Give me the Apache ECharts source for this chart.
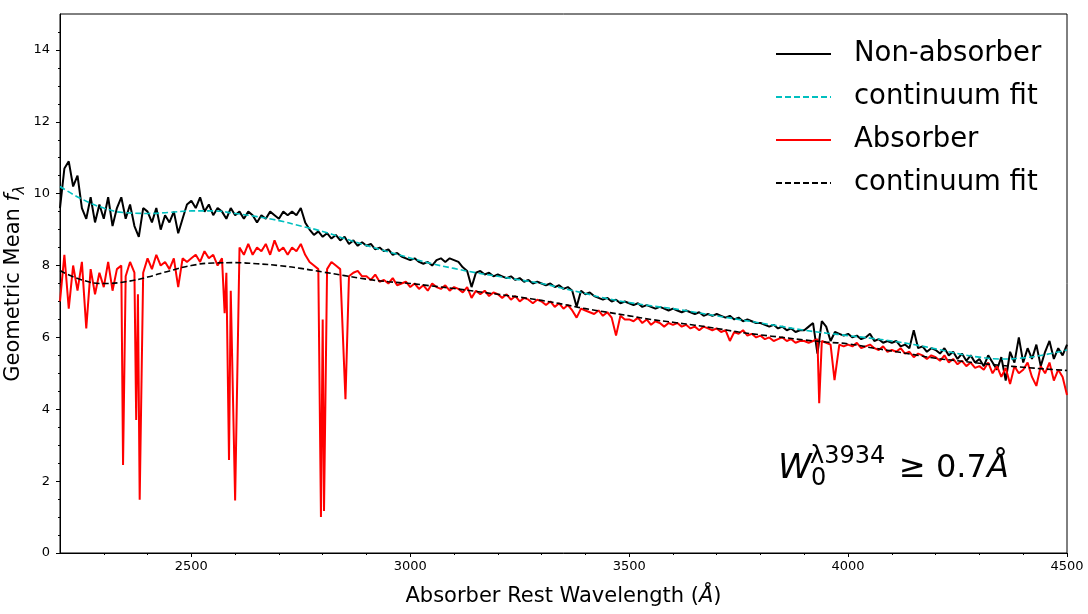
<!DOCTYPE html>
<html>
<head>
<meta charset="utf-8">
<script src="https://cdn.jsdelivr.net/npm/echarts@6/dist/echarts.min.js"></script>
<style>
  html, body { margin: 0; padding: 0; background: #fff; }
  #main { width: 1088px; height: 614px; }
</style>
</head>
<body>
<div id="main"></div>
<script>
// wavelength grid of the stacked spectra (10 A steps)
const gridStart = 2200, gridStep = 10;

// non-absorber geometric mean, one value per 10 A from 2200 to 4500
const nonAbsFlux = [
  9.6, 10.7, 10.9, 10.2, 10.5, 9.6, 9.3, 9.9, 9.2, 9.7,
  9.3, 9.9, 9.1, 9.6, 9.9, 9.3, 9.7, 9.1, 8.8, 9.6,
  9.5, 9.2, 9.6, 9.0, 9.4, 9.2, 9.5, 8.9, 9.3, 9.7,
  9.8, 9.6, 9.9, 9.5, 9.7, 9.4, 9.6, 9.5, 9.3, 9.6,
  9.4, 9.5, 9.3, 9.5, 9.4, 9.2, 9.4, 9.3, 9.5, 9.4,
  9.3, 9.5, 9.4, 9.5, 9.4, 9.6, 9.2, 9.0, 8.85, 8.95,
  8.8, 8.9, 8.75, 8.85, 8.7, 8.8, 8.6, 8.7, 8.55, 8.65,
  8.55, 8.6, 8.45, 8.5, 8.4, 8.45, 8.3, 8.35, 8.25, 8.2,
  8.15, 8.2, 8.1, 8.05, 8.1, 8.0, 8.15, 8.2, 8.1, 8.2,
  8.15, 8.1, 7.95, 7.85, 7.4, 7.8, 7.85, 7.75, 7.8, 7.7,
  7.75, 7.7, 7.65, 7.7, 7.6, 7.65, 7.55, 7.6, 7.5, 7.55,
  7.5, 7.45, 7.5, 7.4, 7.45, 7.35, 7.4, 7.3, 6.85, 7.3,
  7.2, 7.25, 7.15, 7.1, 7.05, 7.1, 7.0, 7.05, 6.95, 7.0,
  6.95, 6.9, 6.95, 6.85, 6.9, 6.85, 6.8, 6.85, 6.8, 6.75,
  6.8, 6.75, 6.7, 6.75, 6.7, 6.65, 6.7, 6.6, 6.65, 6.6,
  6.65, 6.6, 6.55, 6.6, 6.5, 6.55, 6.45, 6.5, 6.45, 6.4,
  6.4, 6.35, 6.3, 6.35, 6.25, 6.3, 6.2, 6.25, 6.15, 6.2,
  6.2, 6.3, 6.4, 5.55, 6.45, 6.3, 5.9, 6.15, 6.1, 6.05,
  6.1, 6.0, 6.05, 5.95, 6.0, 6.1, 5.9, 5.95, 5.85, 5.9,
  5.85, 5.9, 5.75, 5.8, 5.7, 6.2, 5.7, 5.75, 5.6, 5.7,
  5.65, 5.55, 5.7, 5.5, 5.6, 5.4, 5.55, 5.35, 5.5, 5.3,
  5.4, 5.2, 5.5, 5.3, 5.1, 5.45, 4.8, 5.6, 5.3, 6.0,
  5.3, 5.7, 5.4, 5.8, 5.2, 5.6, 5.9, 5.4, 5.7, 5.5,
  5.8
];

// absorber geometric mean on the same grid
const absFlux = [
  7.0, 8.3, 6.8, 8.0, 7.3, 8.1, 7.5, 7.9, 7.2, 7.8,
  7.4, 8.1, 7.3, 7.9, 8.0, 7.7, 8.1, 7.8, 7.5, 7.8,
  8.2, 7.9, 8.3, 8.0, 8.1, 7.9, 8.2, 7.4, 8.2, 8.1,
  8.2, 8.3, 8.1, 8.4, 8.2, 8.3, 8.0, 8.2, 7.8, 7.3,
  8.2, 8.5, 8.3, 8.6, 8.3, 8.5, 8.4, 8.6, 8.3, 8.7,
  8.4, 8.5, 8.3, 8.5, 8.4, 8.6, 8.3, 8.1, 8.0, 7.9,
  6.5, 7.9, 8.1, 8.0, 7.9, 8.0, 7.7, 7.8, 7.85, 7.7,
  7.7, 7.6, 7.75, 7.55, 7.6, 7.5, 7.65, 7.45, 7.5, 7.55,
  7.4, 7.5, 7.35, 7.45, 7.3, 7.5, 7.4, 7.35, 7.45, 7.3,
  7.4, 7.35, 7.25, 7.4, 7.1, 7.3, 7.2, 7.3, 7.15, 7.25,
  7.2, 7.1, 7.2, 7.05, 7.15, 7.0, 7.1, 7.05, 6.95, 7.05,
  7.0, 6.9, 7.0, 6.85, 6.95, 6.8, 6.9, 6.75, 6.55, 6.8,
  6.75, 6.7, 6.65, 6.75, 6.6, 6.7, 6.55, 6.05, 6.6, 6.5,
  6.5, 6.45, 6.55, 6.4, 6.5, 6.35, 6.45, 6.4, 6.3, 6.4,
  6.35, 6.4, 6.3, 6.35, 6.25, 6.3, 6.2, 6.3, 6.25, 6.2,
  6.25, 6.15, 6.2, 5.9, 6.15, 6.1, 6.2, 6.05, 6.1, 6.0,
  6.05, 5.95, 6.0, 5.9, 5.95, 6.0, 5.9, 5.95, 5.85, 5.9,
  5.9, 5.85, 5.9, 5.95, 5.9, 5.85, 5.8, 5.85, 5.8, 5.75,
  5.8, 5.75, 5.85, 5.7, 5.75, 5.8, 5.7, 5.65, 5.75, 5.6,
  5.65, 5.6, 5.7, 5.55, 5.6, 5.45, 5.55, 5.5, 5.4, 5.5,
  5.45, 5.35, 5.5, 5.3, 5.4, 5.25, 5.35, 5.2, 5.3, 5.15,
  5.2, 5.1, 5.3, 5.0, 5.2, 4.9, 5.15, 4.7, 5.2, 5.0,
  5.1, 5.3, 4.9, 4.65, 5.2, 5.0, 5.3, 4.8, 5.1, 4.9,
  4.4
];

// narrow absorption features of the absorber stack (Fe II, Mg II, Mg I, Ca II)
const lineWave = [2260, 2344, 2374, 2378, 2382, 2576, 2586, 2600, 2796, 2803, 2852, 3934, 3969];
const lineFlux = [6.25, 2.45, 3.7, 7.2, 1.48, 6.67, 2.59, 1.46, 1.0, 1.17, 4.28, 4.17, 4.81];

// continuum fits, every 50 A
const fitWave = [
  2200, 2250, 2300, 2350, 2400, 2450, 2500, 2550, 2600, 2650, 2700, 2750,
  2800, 2850, 2900, 2950, 3000, 3050, 3100, 3150, 3200, 3250, 3300, 3350,
  3400, 3450, 3500, 3550, 3600, 3650, 3700, 3750, 3800, 3850, 3900, 3950,
  4000, 4050, 4100, 4150, 4200, 4250, 4300, 4350, 4400, 4450, 4500
];
const nonAbsFit = [
  10.2, 9.85, 9.6, 9.47, 9.45, 9.48, 9.52, 9.52, 9.45, 9.36, 9.25, 9.1,
  8.95, 8.75, 8.56, 8.38, 8.21, 8.05, 7.92, 7.8, 7.7, 7.6, 7.5, 7.36,
  7.22, 7.08, 6.97, 6.88, 6.8, 6.7, 6.6, 6.5, 6.4, 6.3, 6.2, 6.12,
  6.05, 5.98, 5.9, 5.8, 5.68, 5.55, 5.45, 5.4, 5.43, 5.52, 5.65
];
const absFit = [
  7.86, 7.6, 7.5, 7.55, 7.68, 7.85, 8.0, 8.07, 8.08, 8.05, 8.0, 7.92,
  7.82, 7.72, 7.62, 7.55, 7.5, 7.43, 7.36, 7.28, 7.2, 7.12, 7.03, 6.92,
  6.8, 6.7, 6.6, 6.5, 6.42, 6.34, 6.25, 6.15, 6.07, 6.0, 5.93, 5.87,
  5.82, 5.72, 5.62, 5.52, 5.42, 5.35, 5.28, 5.22, 5.17, 5.12, 5.08
];

// axis ticks
const xMajorTicks = [2500, 3000, 3500, 4000, 4500];
const yMajorTicks = [0, 2, 4, 6, 8, 10, 12, 14];

const FONT = 'DejaVu Sans';

const xMinorTicks = [];
for (let v = 2300; v < 4500; v += 100) if (v % 500 !== 0) xMinorTicks.push(v);
const yMinorTicks = [];
for (let v = 0.5; v < 15; v += 0.5) if (v % 2 !== 0) yMinorTicks.push(v);

const pairs = (xs, ys) => xs.map((x, i) => [x, ys[i]]);
const gridWave = nonAbsFlux.map((_, i) => gridStart + i * gridStep);

const nonAbsData = pairs(gridWave, nonAbsFlux);
// merge the line cores into the absorber grid, dropping grid points that sit on a line core
const absData = pairs(gridWave, absFlux)
  .filter(p => !lineWave.some(w => Math.abs(w - p[0]) <= 2))
  .concat(pairs(lineWave, lineFlux))
  .sort((a, b) => a[0] - b[0]);

const chart = echarts.init(document.getElementById('main'));

const axisBase = {
  axisLine: { show: true, lineStyle: { color: '#000', width: 1 } },
  splitLine: { show: false },
};

const option = {
  animation: false,
  backgroundColor: '#fff',
  grid: {
    left: 60, right: 21, top: 14, bottom: 61,
    outerBoundsMode: 'none', containLabel: false,
    show: true, borderColor: '#000', borderWidth: 1
  },
  xAxis: [
    {
      ...axisBase,
      type: 'value', min: 2200, max: 4500,
      axisTick: { show: true, customValues: xMajorTicks, length: 4, lineStyle: { color: '#000' } },
      axisLabel: {
        customValues: xMajorTicks, formatter: v => String(v),
        color: '#000', fontFamily: FONT, fontSize: 13, margin: 7
      },
      name: 'Absorber Rest Wavelength ({i|Å})',
      nameLocation: 'middle', nameGap: 33,
      nameTextStyle: {
        color: '#000', fontFamily: FONT, fontSize: 21,
        rich: { i: { fontFamily: FONT, fontSize: 21, fontStyle: 'italic', color: '#000' } }
      }
    },
    {
      type: 'value', min: 2200, max: 4500, position: 'bottom',
      axisLine: { show: false },
      axisTick: { show: true, customValues: xMinorTicks, length: 2, lineStyle: { color: '#000' } },
      axisLabel: { show: false },
      splitLine: { show: false }
    }
  ],
  yAxis: [
    {
      ...axisBase,
      type: 'value', min: 0, max: 15,
      axisTick: { show: true, customValues: yMajorTicks, length: 4, lineStyle: { color: '#000' } },
      axisLabel: { customValues: yMajorTicks, color: '#000', fontFamily: FONT, fontSize: 13, margin: 10 },
      name: 'Geometric Mean {i|f}{s|λ}',
      nameLocation: 'middle', nameGap: 32, nameRotate: 90, nameMoveOverlap: false,
      nameTextStyle: {
        color: '#000', fontFamily: FONT, fontSize: 21, lineHeight: 28,
        rich: {
          i: { fontFamily: FONT, fontSize: 21, fontStyle: 'italic', color: '#000', lineHeight: 28 },
          s: { fontFamily: FONT, fontSize: 15, fontStyle: 'italic', color: '#000', lineHeight: 28, verticalAlign: 'bottom' }
        }
      }
    },
    {
      type: 'value', min: 0, max: 15, position: 'left',
      axisLine: { show: false },
      axisTick: { show: true, customValues: yMinorTicks, length: 2, lineStyle: { color: '#000' } },
      axisLabel: { show: false },
      splitLine: { show: false }
    }
  ],
  legend: {
    orient: 'vertical',
    left: 775, top: 40, padding: 0,
    itemWidth: 55, itemHeight: 14, itemGap: 15,
    itemStyle: { opacity: 0 },
    textStyle: { color: '#000', fontFamily: FONT, fontSize: 27.5, padding: [0, 0, 0, 18] },
    data: ['Non-absorber', 'continuum fit', 'Absorber', 'continuum fit ']
  },
  series: [
    {
      name: 'Non-absorber', type: 'line', data: nonAbsData,
      showSymbol: false, symbol: 'none',
      lineStyle: { color: '#000', width: 2 }, itemStyle: { color: '#000' }
    },
    {
      name: 'continuum fit', type: 'line', data: pairs(fitWave, nonAbsFit),
      showSymbol: false, symbol: 'none', smooth: true,
      lineStyle: { color: '#00bfbf', width: 1.6, type: [6, 3] }, itemStyle: { color: '#00bfbf' }
    },
    {
      name: 'Absorber', type: 'line', data: absData,
      showSymbol: false, symbol: 'none',
      lineStyle: { color: '#ff0000', width: 2 }, itemStyle: { color: '#ff0000' }
    },
    {
      name: 'continuum fit ', type: 'line', data: pairs(fitWave, absFit),
      showSymbol: false, symbol: 'none', smooth: true,
      lineStyle: { color: '#000', width: 1.6, type: [6, 3] }, itemStyle: { color: '#000' }
    }
  ],
  graphic: [
    { type: 'text', left: 778, top: 452, style: { text: 'W', font: 'italic 34px "DejaVu Sans"', fill: '#000' } },
    { type: 'text', left: 810, top: 445, style: { text: 'λ3934', font: '24px "DejaVu Sans"', fill: '#000' } },
    { type: 'text', left: 811, top: 467, style: { text: '0', font: '24px "DejaVu Sans"', fill: '#000' } },
    {
      type: 'text', left: 899, top: 453,
      style: {
        text: '{n|≥ 0.7}{i|Å}',
        rich: {
          n: { fontFamily: FONT, fontSize: 32, fill: '#000' },
          i: { fontFamily: FONT, fontSize: 32, fontStyle: 'italic', fill: '#000' }
        }
      }
    }
  ]
};

chart.setOption(option);
</script>
</body>
</html>
